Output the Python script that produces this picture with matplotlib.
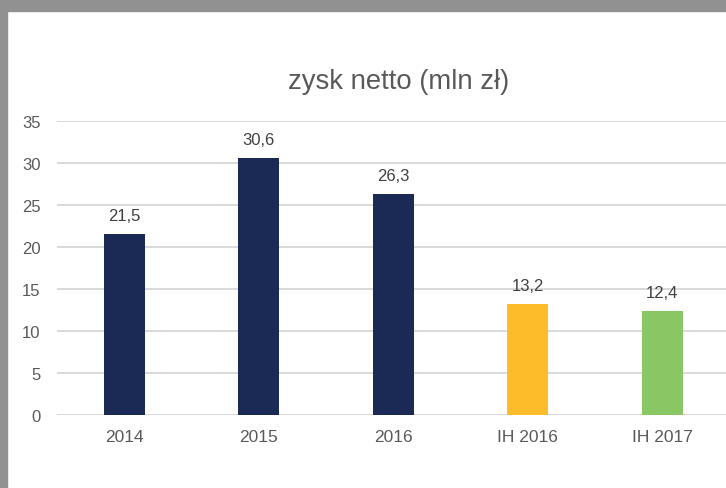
import matplotlib

matplotlib.use("Agg")
import matplotlib.pyplot as plt
from matplotlib.patches import Rectangle

categories = ["2014", "2015", "2016", "IH 2016", "IH 2017"]
values = [21.5, 30.6, 26.3, 13.2, 12.4]
labels = ["21,5", "30,6", "26,3", "13,2", "12,4"]
colors = ["#1b2955", "#1b2955", "#1b2955", "#fdbc2a", "#88c764"]
yticks = [0, 5, 10, 15, 20, 25, 30, 35]

plt.rcParams["font.family"] = ["Liberation Sans", "DejaVu Sans"]

W, H = 726, 489
fig = plt.figure(figsize=(W / 100, H / 100), dpi=100)

# grey frame visible on the top and left edges of the screenshot
fig.patches.append(Rectangle((0, 1 - 12 / H), 1, 12 / H, transform=fig.transFigure,
                             color="#919191", zorder=0))
fig.patches.append(Rectangle((0, 0), 7 / W, 1, transform=fig.transFigure,
                             color="#919191", zorder=0))

ax = fig.add_axes([57 / W, 73 / H, (729.5 - 57) / W, (416 - 122) / H])
x = range(len(categories))
ax.bar(x, values, width=0.305, color=colors, zorder=3)

for xi, v, lab in zip(x, values, labels):
    ax.annotate(lab, (xi, v), textcoords="offset points", xytext=(0, 8),
                ha="center", va="bottom", fontsize=12, color="#404040")

ax.set_xlim(-0.5, 4.5)
ax.set_ylim(0, 35)
ax.set_yticks(yticks)
ax.set_xticks(list(x))
ax.set_xticklabels(categories)
ax.yaxis.grid(True, color="#d9d9d9", linewidth=1.4, zorder=0)
ax.set_axisbelow(True)
for s in ax.spines.values():
    s.set_visible(False)
ax.tick_params(axis="y", length=0, pad=12, labelsize=12, labelcolor="#595959")
ax.tick_params(axis="x", length=0, pad=10, labelsize=12.5, labelcolor="#595959")

fig.text(399 / W, 1 - 82 / H, "zysk netto (mln zł)", ha="center", va="center",
         fontsize=19.8, color="#595959")

fig.savefig("out.png", dpi=100)
